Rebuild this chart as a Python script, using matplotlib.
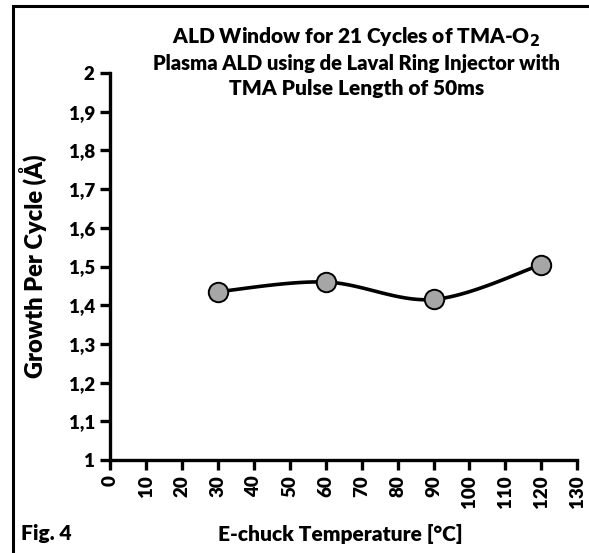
import numpy as np
import matplotlib.pyplot as plt
from matplotlib.patches import Rectangle

# E-chuck temperature vs growth per cycle
temps = [30, 60, 90, 120]
gpc = [1.435, 1.46, 1.415, 1.505]

yticks = [1.0, 1.1, 1.2, 1.3, 1.4, 1.5, 1.6, 1.7, 1.8, 1.9, 2.0]
xticks = list(range(0, 131, 10))

plt.rcParams['font.family'] = ['Lato', 'DejaVu Sans']
W = 'heavy'


def smooth(xs, ys, n=40):
    # cardinal spline, similar to excel "smoothed line"
    xs = np.asarray(xs, float)
    ys = np.asarray(ys, float)
    px = np.concatenate([[xs[0]], xs, [xs[-1]]])
    py = np.concatenate([[ys[0]], ys, [ys[-1]]])
    ox, oy = [], []
    for i in range(1, len(px) - 2):
        t = np.linspace(0, 1, n)
        p0, p1, p2, p3 = [np.array([px[j], py[j]]) for j in (i - 1, i, i + 1, i + 2)]
        m1 = (p2 - p0) / 2
        m2 = (p3 - p1) / 2
        h00 = 2 * t**3 - 3 * t**2 + 1
        h10 = t**3 - 2 * t**2 + t
        h01 = -2 * t**3 + 3 * t**2
        h11 = t**3 - t**2
        pts = np.outer(h00, p1) + np.outer(h10, m1) + np.outer(h01, p2) + np.outer(h11, m2)
        ox.extend(pts[:, 0])
        oy.extend(pts[:, 1])
    return ox, oy


fig = plt.figure(figsize=(5.89, 5.53), dpi=100)
ax = fig.add_axes([0.187, 0.168, 0.793, 0.700])

sx, sy = smooth(temps, gpc)
ax.plot(sx, sy, color='black', lw=2.6, zorder=2)
ax.plot(temps, gpc, 'o', ms=14, mfc='#A6A6A6', mec='black', mew=1.4, zorder=3, clip_on=False)

ax.set_xlim(0, 130)
ax.set_ylim(1, 2)
ax.set_xticks(xticks)
ax.set_yticks(yticks)
ax.set_yticklabels([f'{v:g}'.replace('.', ',') for v in yticks], fontsize=13.5, fontweight=W)
ax.set_xticklabels([str(v) for v in xticks], rotation=90, fontsize=13.5, fontweight=W)

for s in ['top', 'right']:
    ax.spines[s].set_visible(False)
for s in ['left', 'bottom']:
    ax.spines[s].set_linewidth(2.4)
ax.tick_params(width=2.4, length=7, direction='out', pad=4)

fig.text(34 / 589, 0.518, 'Growth Per Cycle (Å)', rotation=90, ha='center', va='center',
         fontsize=17, fontweight=W)

fig.text(0.605, 0.932, r'ALD Window for 21 Cycles of TMA-O$_\mathbf{2}$',
         ha='center', va='center', fontsize=15, fontweight=W)
fig.text(0.605, 0.886, 'Plasma ALD using de Laval Ring Injector with',
         ha='center', va='center', fontsize=14.5, fontweight=W)
fig.text(0.605, 0.840, 'TMA Pulse Length of 50ms',
         ha='center', va='center', fontsize=15, fontweight=W)

fig.text(0.578, 0.035, 'E-chuck Temperature [°C]', ha='center', va='center',
         fontsize=15, fontweight=W)
fig.text(0.035, 0.035, 'Fig. 4', ha='left', va='center', fontsize=15, fontweight=W)

# frame around the figure (top and left edges visible)
fig.patches.append(Rectangle((13 / 589, -0.1), 1.2, 1.1 - 6 / 553,
                             transform=fig.transFigure, fill=False,
                             edgecolor='black', lw=2.2))

fig.savefig('out.png', dpi=100)
